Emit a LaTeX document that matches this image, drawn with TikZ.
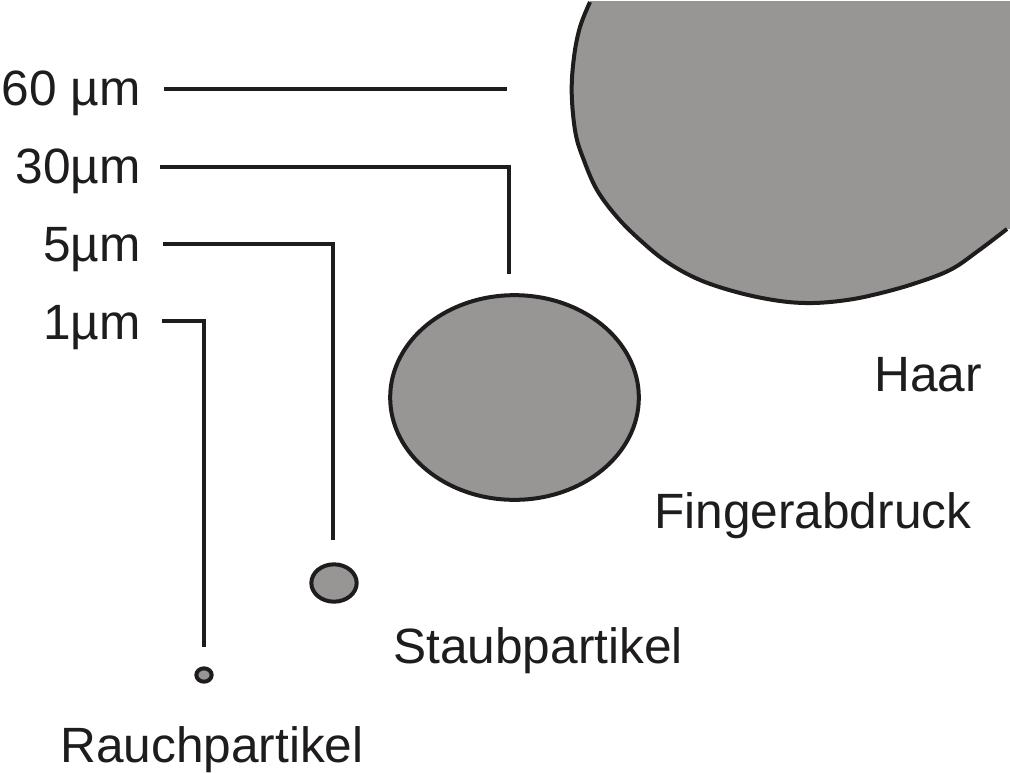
\documentclass[tikz,border=0pt]{standalone}
\usepackage{fontspec}
\setmainfont{Liberation Sans}
\usetikzlibrary{shapes.geometric}
\definecolor{pgray}{RGB}{151,150,148}
\definecolor{ink}{RGB}{30,28,28}
\tikzset{
 x=0.75pt,y=-0.75pt,
 lbl/.style={font=\fontsize{37.2}{40}\selectfont,text=ink,inner sep=0pt,anchor=base east},
 capt/.style={font=\fontsize{37.2}{40}\selectfont,text=ink,inner sep=0pt,anchor=base west},
 lead/.style={draw=ink,line width=3pt},
 part/.style={ellipse,draw=ink,fill=pgray,line width=3pt,inner sep=0pt}
}
\def\hairpath{plot[smooth,tension=0.6] coordinates {(590,2) (580,27) (574,57) (571.7,93) (575.5,133) (583.8,160) (597,190) (617,217) (640,240) (667,262) (700,280) (740,293) (780,301) (813,303) (847,300) (877,294) (913,284) (950,270) (978,251) (1007,229)}}
\begin{document}
\begin{tikzpicture}
\useasboundingbox (0,0) rectangle (1010,772);
\fill[white] (0,0) rectangle (1010,772);
\fill[pgray] \hairpath -- (1010,229) -- (1010,1) -- (590,1) -- cycle;
\draw[ink,line width=3pt] \hairpath;
\node[part,minimum width=186.5pt,minimum height=153.5pt] (fp) at (514.5,397.5) {};
\node[part,minimum width=34pt,minimum height=28pt] (st) at (334,583) {};
\node[part,minimum width=11.5pt,minimum height=10pt] (ra) at (204,675) {};
\node[lbl] (l60) at (141,105) {60 µm};
\node[lbl] (l30) at (141,183) {30µm};
\node[lbl] (l5) at (141,261) {5µm};
\node[lbl] (l1) at (141,339) {1µm};
\coordinate (a0) at (164,89); \coordinate (a1) at (507,89);
\coordinate (b0) at (160,167); \coordinate (b1) at (509,167); \coordinate (b2) at (509,274);
\coordinate (c0) at (163,244); \coordinate (c1) at (333,244); \coordinate (c2) at (333,540);
\coordinate (d0) at (162,321); \coordinate (d1) at (204,321); \coordinate (d2) at (204,647);
\draw[lead] (a0) -- (a1);
\draw[lead] (b0) -- (b1) -- (b2);
\draw[lead] (c0) -- (c1) -- (c2);
\draw[lead] (d0) -- (d1) -- (d2);
\node[capt] (haar) at (874,391) {Haar};
\node[capt] (fa) at (654,528) {Fingerabdruck};
\node[capt] (sp) at (393,663) {Staubpartikel};
\node[capt] (rp) at (60,762) {Rauchpartikel};
\end{tikzpicture}
\end{document}
